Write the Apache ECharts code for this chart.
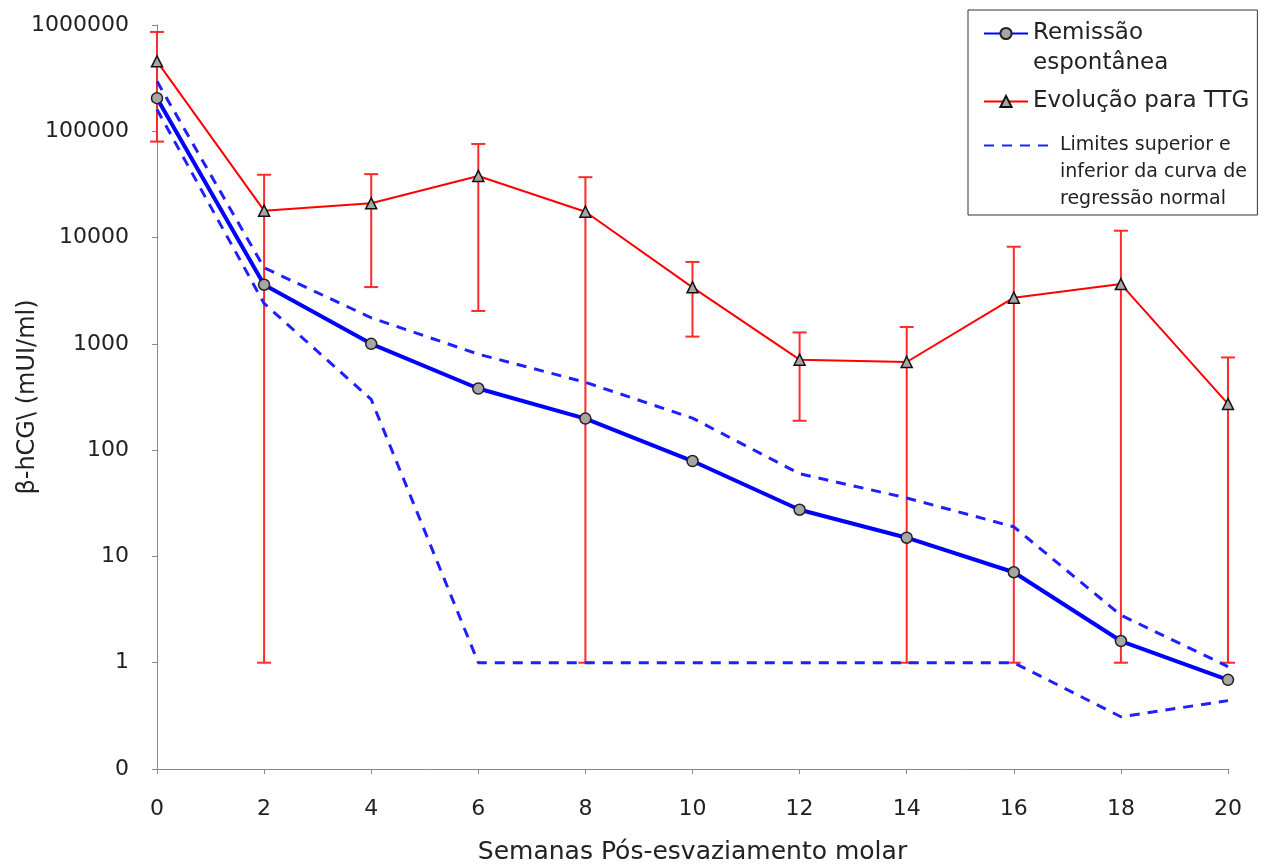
<!DOCTYPE html>
<html><head><meta charset="utf-8">
<script src="https://cdn.jsdelivr.net/npm/echarts@6/dist/echarts.min.js"></script>
<style>html,body{margin:0;padding:0;background:#fff}#c{width:1269px;height:865px}</style>
</head><body><div id="c"></div>
<script>
// ---- data ----
const weeks = [0, 2, 4, 6, 8, 10, 12, 14, 16, 18, 20];
const remissao = [205000, 3600, 1000, 380, 198, 79, 27.5, 15, 7.1, 1.6, 0.69];
const ttg = [455000, 17900, 21000, 38000, 17500, 3400, 710, 675, 2720, 3650, 272];
const ttgHigh = [860000, 39000, 39500, 76000, 37000, 5900, 1280, 1440, 8200, 11600, 745];
const ttgLow = [80000, 1, 3420, 2040, 1, 1170, 189, 1, 1, 1, 1];
const limSup = [295000, 5200, 1760, 800, 435, 200, 60, 35.5, 19, 2.8, 0.92];
const limInf = [160000, 2400, 300, 1, 1, 1, 1, 1, 1, 0.31, 0.44];

const REM = 'Remissão espontânea';
const TTG = 'Evolução para TTG';
const LIM = 'Limites superior e inferior da curva de regressão normal';
const legendLines = {
  [REM]: ['Remissão', 'espontânea'],
  [TTG]: ['Evolução para TTG'],
  [LIM]: ['Limites superior e', 'inferior da curva de', 'regressão normal']
};

const FONT = 'DejaVu Sans';
const pairs = arr => weeks.map((w, i) => [w, arr[i]]);
const errData = weeks.map((w, i) => [w, ttgLow[i], ttgHigh[i]]);

function renderErr(params, api) {
  const x = api.value(0);
  const lo = api.coord([x, api.value(1)]);
  const hi = api.coord([x, api.value(2)]);
  const half = 7;
  const style = { stroke: '#ff2a2a', lineWidth: 2 };
  return {
    type: 'group',
    children: [
      { type: 'line', shape: { x1: lo[0], y1: lo[1], x2: hi[0], y2: hi[1] }, style },
      { type: 'line', shape: { x1: lo[0] - half, y1: lo[1], x2: lo[0] + half, y2: lo[1] }, style },
      { type: 'line', shape: { x1: hi[0] - half, y1: hi[1], x2: hi[0] + half, y2: hi[1] }, style }
    ]
  };
}

const richStyles = {
  a: { fontSize: 23, lineHeight: 30, color: '#222', fontFamily: FONT },
  b: { fontSize: 19, lineHeight: 27, color: '#222', fontFamily: FONT }
};

const chart = echarts.init(document.getElementById('c'), null, { renderer: 'canvas' });
chart.setOption({
  animation: false,
  backgroundColor: '#fff',
  textStyle: { fontFamily: FONT },
  grid: { left: 157, right: 41, top: 25, bottom: 96, containLabel: false, outerBoundsMode: 'none' },
  xAxis: {
    type: 'value', min: 0, max: 20, interval: 2,
    name: 'Semanas Pós-esvaziamento molar', nameLocation: 'middle', nameGap: 71,
    nameTextStyle: { fontSize: 25, color: '#222', fontFamily: FONT },
    axisLine: { onZero: false, lineStyle: { color: '#888', width: 1 } },
    axisTick: { show: true, length: 5, lineStyle: { color: '#888' } },
    axisLabel: { fontSize: 22, color: '#222', margin: 29, fontFamily: FONT },
    splitLine: { show: false }
  },
  yAxis: {
    type: 'log', logBase: 10, min: 0.1, max: 1000000,
    name: 'β-hCG\\ (mUI/ml)', nameLocation: 'middle', nameGap: 117, nameMoveOverlap: false,
    nameTextStyle: { fontSize: 24, color: '#222', fontFamily: FONT },
    axisLine: { show: true, onZero: false, lineStyle: { color: '#888', width: 1 } },
    axisTick: { show: true, length: 5, lineStyle: { color: '#888' } },
    minorTick: { show: false },
    axisLabel: {
      fontSize: 22, color: '#222', margin: 28, fontFamily: FONT,
      formatter: v => (v < 0.5 ? '0' : String(Math.round(v)))
    },
    splitLine: { show: false }
  },
  legend: [
    {
      orient: 'vertical', left: 968, top: 10, padding: [12, 8, 102, 15], itemGap: 15,
      itemWidth: 44, itemHeight: 14, borderColor: '#333', borderWidth: 1,
      selectedMode: false,
      data: [{ name: REM, textStyle: { padding: [30, 0, 0, 0] } }, { name: TTG }],
      formatter: name => legendLines[name].map(s => '{a|' + s + '}').join('\n'),
      textStyle: { rich: richStyles }
    },
    {
      orient: 'vertical', left: 968, top: 136, padding: [0, 0, 0, 15],
      itemWidth: 71, itemHeight: 14, selectedMode: false,
      data: [{ name: LIM, textStyle: { padding: [54, 0, 0, 0] }, itemStyle: { opacity: 0 } }],
      formatter: name => legendLines[name].map(s => '{b|' + s + '}').join('\n'),
      textStyle: { rich: richStyles }
    }
  ],
  series: [
    { type: 'custom', name: 'erro', renderItem: renderErr, data: errData, encode: { x: 0, y: [1, 2] }, z: 1 },
    { type: 'line', name: LIM, data: pairs(limSup), symbol: 'none', z: 2,
      lineStyle: { color: '#1f1fff', width: 3, type: [10, 8] }, itemStyle: { color: '#1f1fff' } },
    { type: 'line', name: LIM, data: pairs(limInf), symbol: 'none', z: 2,
      lineStyle: { color: '#1f1fff', width: 3, type: [10, 8] }, itemStyle: { color: '#1f1fff' } },
    { type: 'line', name: REM, data: pairs(remissao), symbol: 'circle', symbolSize: 11, z: 3,
      lineStyle: { color: '#0000ff', width: 4 },
      itemStyle: { color: '#a6a6a6', borderColor: '#222', borderWidth: 1.5 } },
    { type: 'line', name: TTG, data: pairs(ttg), symbol: 'triangle', symbolSize: 11, z: 4,
      lineStyle: { color: '#ff0000', width: 2 },
      itemStyle: { color: '#a6a6a6', borderColor: '#111', borderWidth: 1.5 } }
  ]
});
</script>
</body></html>
